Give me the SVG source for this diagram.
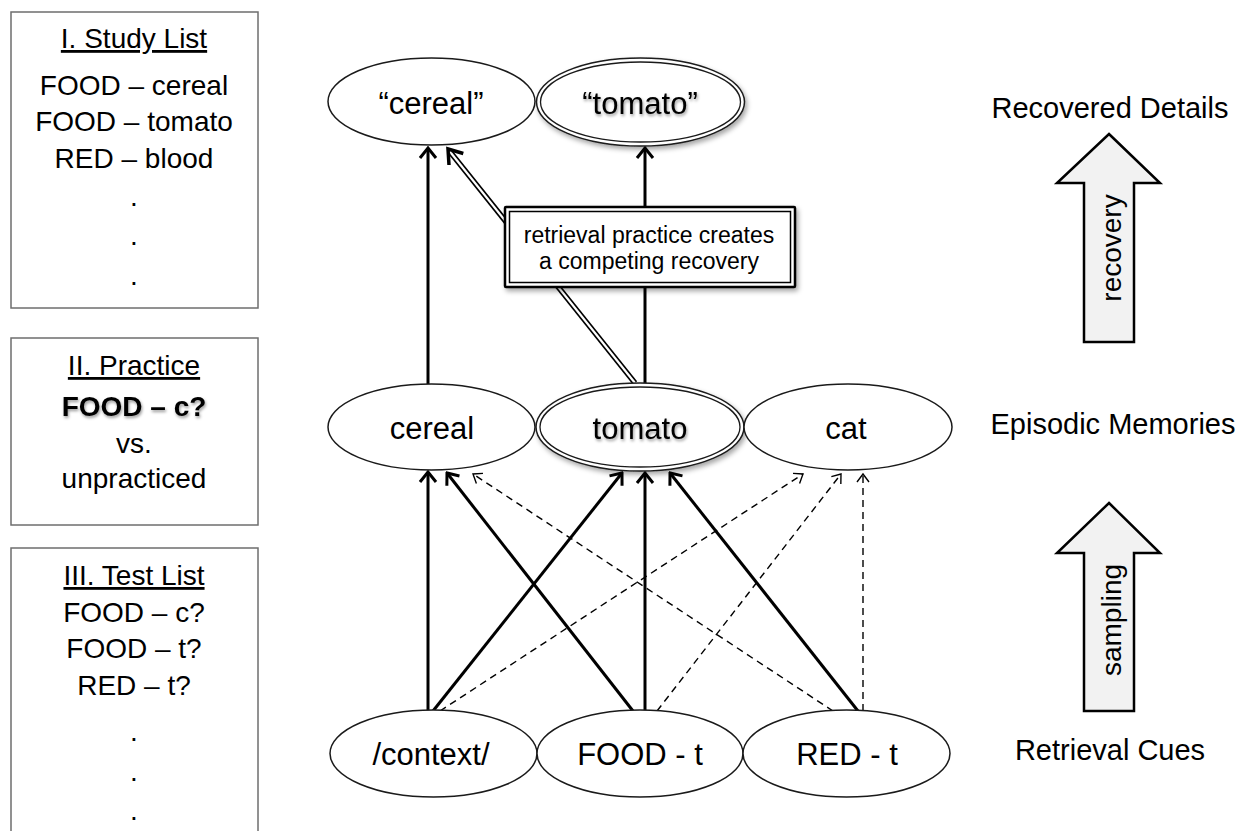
<svg xmlns="http://www.w3.org/2000/svg" width="1243" height="831" viewBox="0 0 1243 831">
<style>
text{font-family:"Liberation Sans",Arial,sans-serif;fill:#000}
.lst{font-size:28px;text-anchor:middle}
.nd{font-size:31px;text-anchor:middle}
.lab{font-size:29px;text-anchor:middle}
.panel{fill:#fff;stroke:#6e6e6e;stroke-width:1.5}
.ell{fill:#fff;stroke:#1a1a1a;stroke-width:1.5}
.sol{stroke:#000;stroke-width:3;fill:none;marker-end:url(#ah)}
.dsh{stroke:#000;stroke-width:1.4;fill:none;stroke-dasharray:7 5;marker-end:url(#ahd)}
.blk{fill:#f2f2f2;stroke:#000;stroke-width:2.5;stroke-linejoin:miter}
</style>
<defs>
<marker id="ah" markerUnits="userSpaceOnUse" viewBox="-14 -10 16 20" refX="0" refY="0" markerWidth="16" markerHeight="20" orient="auto">
<path d="M-10,-8 L0,0 L-10,8" fill="none" stroke="#000" stroke-width="3" stroke-dasharray="none"/>
</marker>
<marker id="ahd" markerUnits="userSpaceOnUse" viewBox="-12 -8 14 16" refX="0" refY="0" markerWidth="14" markerHeight="16" orient="auto">
<path d="M-8,-6 L0,0 L-8,6" fill="none" stroke="#000" stroke-width="1.4" stroke-dasharray="none"/>
</marker>
<filter id="sh" x="-20%" y="-30%" width="145%" height="170%">
<feDropShadow dx="2" dy="3" stdDeviation="2.5" flood-color="#000" flood-opacity="0.35"/>
</filter>
<filter id="tsh" x="-10%" y="-30%" width="130%" height="170%">
<feDropShadow dx="1" dy="2" stdDeviation="1.5" flood-color="#000" flood-opacity="0.4"/>
</filter>
</defs>
<rect width="1243" height="831" fill="#fff"/>

<g id="study-list">
<rect class="panel" x="11" y="12" width="247" height="296"/>
<text class="lst" x="134" y="48" text-decoration="underline">I. Study List</text>
<text class="lst" x="134" y="95">FOOD – cereal</text>
<text class="lst" x="134" y="131">FOOD – tomato</text>
<text class="lst" x="134" y="168">RED – blood</text>
<text class="lst" x="134" y="206">.</text>
<text class="lst" x="134" y="245">.</text>
<text class="lst" x="134" y="285">.</text>
</g>

<g id="practice">
<rect class="panel" x="11" y="338" width="247" height="187"/>
<text class="lst" x="134" y="375" text-decoration="underline">II. Practice</text>
<text class="lst" x="134" y="416" font-weight="bold" filter="url(#tsh)">FOOD – c?</text>
<text class="lst" x="134" y="453">vs.</text>
<text class="lst" x="134" y="488">unpracticed</text>
</g>

<g id="test-list">
<rect class="panel" x="11" y="548" width="247" height="300"/>
<text class="lst" x="134" y="585" text-decoration="underline">III. Test List</text>
<text class="lst" x="134" y="622">FOOD – c?</text>
<text class="lst" x="134" y="658">FOOD – t?</text>
<text class="lst" x="134" y="695">RED – t?</text>
<text class="lst" x="134" y="741">.</text>
<text class="lst" x="134" y="781">.</text>
<text class="lst" x="134" y="820">.</text>
</g>

<g id="connectors">
<line class="sol" x1="428" y1="384" x2="428" y2="148"/>
<line class="sol" x1="645" y1="383" x2="645" y2="148"/>
<line x1="635" y1="383" x2="451" y2="153" stroke="#000" stroke-width="5.5"/>
<line x1="635" y1="383" x2="451" y2="153" stroke="#fff" stroke-width="2.2"/>
<path d="M449,165 L448,149 L463.3,153.5" fill="none" stroke="#000" stroke-width="3.5" stroke-linejoin="miter"/>

<line class="sol" x1="428" y1="711" x2="428" y2="472"/>
<line class="sol" x1="433" y1="711" x2="622" y2="473"/>
<line class="dsh" x1="440" y1="711" x2="803" y2="474"/>
<line class="sol" x1="633" y1="711" x2="447" y2="473"/>
<line class="sol" x1="645" y1="711" x2="645" y2="473"/>
<line class="dsh" x1="657" y1="711" x2="841" y2="474"/>
<line class="dsh" x1="833" y1="711" x2="473" y2="474"/>
<line class="sol" x1="858" y1="711" x2="670" y2="473"/>
<line class="dsh" x1="863" y1="711" x2="863" y2="474"/>
</g>

<g id="rec-cereal">
<ellipse class="ell" cx="431.5" cy="101.5" rx="103.5" ry="43.5"/>
<text class="nd" x="431" y="114">“cereal”</text>
</g>
<g id="rec-tomato">
<ellipse cx="640.5" cy="102" rx="104" ry="44" fill="#fff" stroke="#1a1a1a" stroke-width="1.5" filter="url(#sh)"/>
<ellipse cx="640.5" cy="102" rx="100" ry="40" fill="none" stroke="#1a1a1a" stroke-width="1.3"/>
<text class="nd" x="640" y="114" filter="url(#tsh)">“tomato”</text>
</g>

<g id="mem-cereal">
<ellipse class="ell" cx="431.5" cy="427" rx="103.5" ry="43"/>
<text class="nd" x="432" y="439">cereal</text>
</g>
<g id="mem-tomato">
<ellipse cx="640" cy="427" rx="104" ry="44" fill="#fff" stroke="#1a1a1a" stroke-width="1.5" filter="url(#sh)"/>
<ellipse cx="640" cy="427" rx="100" ry="40" fill="none" stroke="#1a1a1a" stroke-width="1.3"/>
<text class="nd" x="640" y="439" filter="url(#tsh)">tomato</text>
</g>
<g id="mem-cat">
<ellipse class="ell" cx="848" cy="427" rx="104" ry="43"/>
<text class="nd" x="846" y="439">cat</text>
</g>

<g id="cue-context">
<ellipse class="ell" cx="433.5" cy="753.5" rx="103.5" ry="43.5"/>
<text class="nd" x="431" y="765">/context/</text>
</g>
<g id="cue-food">
<ellipse class="ell" cx="640" cy="753.5" rx="103" ry="43.5"/>
<text class="nd" x="640" y="765">FOOD - t</text>
</g>
<g id="cue-red">
<ellipse class="ell" cx="846.5" cy="753.5" rx="103.5" ry="43.5"/>
<text class="nd" x="847" y="765">RED - t</text>
</g>

<g id="callout">
<g filter="url(#sh)">
<rect x="505" y="207" width="290" height="80" fill="#fff" stroke="#000" stroke-width="2.5" rx="1"/>
</g>
<rect x="509.5" y="211.5" width="281" height="71" fill="none" stroke="#000" stroke-width="1.5"/>
<text x="649" y="243" font-size="23" text-anchor="middle">retrieval practice creates</text>
<text x="649" y="269" font-size="23" text-anchor="middle">a competing recovery</text>
</g>

<g id="labels">
<text class="lab" x="1110" y="118">Recovered Details</text>
<text class="lab" x="1113" y="434">Episodic Memories</text>
<text class="lab" x="1110" y="760">Retrieval Cues</text>
</g>

<g id="recovery-arrow">
<path class="blk" d="M1109,134 L1160,183 L1134,183 L1134,342 L1084,342 L1084,183 L1057,183 Z"/>
<text font-size="28" text-anchor="middle" transform="translate(1121,248) rotate(-90)">recovery</text>
</g>
<g id="sampling-arrow">
<path class="blk" d="M1109,503 L1160,553 L1134,553 L1134,711 L1084,711 L1084,553 L1057,553 Z"/>
<text font-size="28" text-anchor="middle" transform="translate(1121,620) rotate(-90)">sampling</text>
</g>
</svg>
